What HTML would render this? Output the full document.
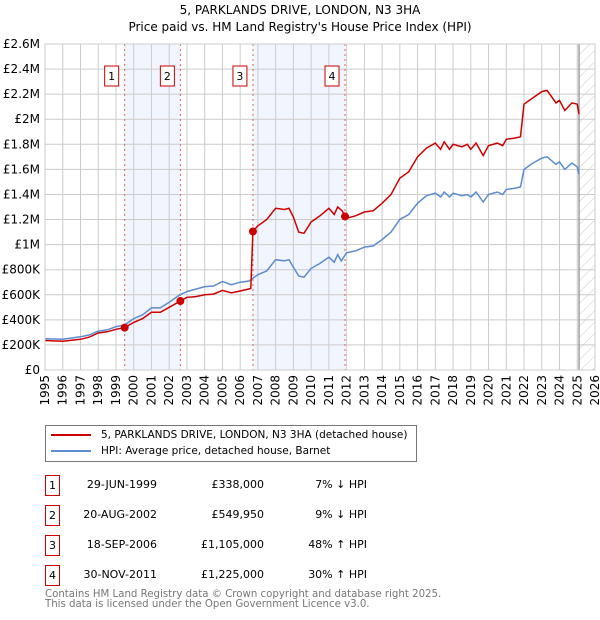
<!DOCTYPE html>
<html><head><meta charset="utf-8"><style>
body{margin:0;background:#fff;font-family:"DejaVu Sans","Liberation Sans",sans-serif;}
#wrap{position:relative;width:600px;height:620px;overflow:hidden}
.t{position:absolute;font-size:12px;color:#000;white-space:nowrap}
</style></head><body><div id="wrap">
<div class="t" style="left:0;width:600px;text-align:center;top:2px;line-height:17px">5, PARKLANDS DRIVE, LONDON, N3 3HA<br>Price paid vs. HM Land Registry's House Price Index (HPI)</div>
<svg id="chart" width="600" height="420" style="position:absolute;left:0;top:0" font-family="DejaVu Sans, Liberation Sans, sans-serif" font-size="12"></svg>
<div style="position:absolute;left:45px;top:425px;width:370px;height:35px;border:1px solid #777;">
<div style="position:absolute;left:5px;top:3px;font-size:10.5px;white-space:nowrap"><span style="display:inline-block;width:40px;height:2px;background:#cc0000;vertical-align:middle;margin-right:10px"></span>5, PARKLANDS DRIVE, LONDON, N3 3HA (detached house)</div>
<div style="position:absolute;left:5px;top:19px;font-size:10.5px;white-space:nowrap"><span style="display:inline-block;width:40px;height:2px;background:#5b8bd0;vertical-align:middle;margin-right:10px"></span>HPI: Average price, detached house, Barnet</div>
</div>
<div id="tbl"></div>
<div class="t" style="left:45px;top:590px;font-size:10.2px;color:#777;line-height:10px">Contains HM Land Registry data © Crown copyright and database right 2025.<br>This data is licensed under the Open Government Licence v3.0.</div>
</div>
<script>
const hpiYears=[1995,1996,1997,1997.5,1998,1998.5,1999,1999.5,2000,2000.5,2001,2001.5,2002,2002.6,2003,2003.5,2004,2004.5,2005,2005.5,2006,2006.5,2007,2007.5,2008,2008.5,2008.75,2009,2009.3,2009.6,2010,2010.5,2011,2011.3,2011.5,2011.7,2012,2012.5,2013,2013.5,2014,2014.5,2015,2015.5,2016,2016.5,2017,2017.3,2017.5,2017.8,2018,2018.5,2018.8,2019,2019.3,2019.7,2020,2020.5,2020.8,2021,2021.5,2021.8,2022,2022.5,2023,2023.3,2023.8,2024,2024.3,2024.7,2025,2025.1];
const hpiValues=[250,245,265,280,310,320,345,360,410,440,495,495,540,600,625,645,665,670,705,680,700,710,760,790,880,870,880,820,750,740,810,850,900,860,920,870,935,950,980,990,1040,1100,1200,1240,1330,1390,1410,1380,1420,1380,1410,1390,1400,1380,1420,1340,1400,1420,1400,1440,1450,1460,1600,1650,1690,1700,1640,1660,1600,1650,1620,1560];
const priceYears=[1995,1996,1997,1997.5,1998,1998.5,1999,1999.49,2000,2000.5,2001,2001.5,2002,2002.63,2003,2003.5,2004,2004.5,2005,2005.5,2006,2006.6,2006.72,2007,2007.5,2008,2008.5,2008.75,2009,2009.3,2009.6,2010,2010.5,2011,2011.3,2011.5,2011.75,2011.91,2012,2012.5,2013,2013.5,2014,2014.5,2015,2015.5,2016,2016.5,2017,2017.3,2017.5,2017.8,2018,2018.5,2018.8,2019,2019.3,2019.7,2020,2020.5,2020.8,2021,2021.5,2021.8,2022,2022.5,2023,2023.3,2023.8,2024,2024.3,2024.7,2025,2025.1];
const priceValues=[235,230,245,262,295,305,325,338,380,410,460,460,500,550,580,585,600,605,635,615,630,650,1105,1150,1200,1290,1280,1290,1220,1100,1090,1180,1230,1290,1240,1300,1270,1225,1210,1230,1260,1270,1330,1400,1530,1580,1700,1770,1810,1760,1820,1760,1800,1780,1800,1760,1810,1710,1790,1810,1790,1840,1850,1860,2120,2170,2220,2230,2130,2150,2070,2130,2120,2040];
const saleLabels=["1","2","3","4"];
const saleYears=[1999.49,2002.63,2006.72,2011.91];
const saleValues=[338,549.95,1105,1225];
const saleDates=["29-JUN-1999","20-AUG-2002","18-SEP-2006","30-NOV-2011"];
const salePrices=["£338,000","£549,950","£1,105,000","£1,225,000"];
const saleHpi=["7% ↓ HPI","9% ↓ HPI","48% ↑ HPI","30% ↑ HPI"];
const yTicks=[0,200,400,600,800,1000,1200,1400,1600,1800,2000,2200,2400,2600];
const yTickLabels=["£0","£200K","£400K","£600K","£800K","£1M","£1.2M","£1.4M","£1.6M","£1.8M","£2M","£2.2M","£2.4M","£2.6M"];
const xTicks=[1995,1996,1997,1998,1999,2000,2001,2002,2003,2004,2005,2006,2007,2008,2009,2010,2011,2012,2013,2014,2015,2016,2017,2018,2019,2020,2021,2022,2023,2024,2025,2026];
const dataEnd=2025.1;

const L=45,R=595,T=44,B=370;
const X=y=>L+(y-1995)/(2026-1995)*(R-L);
const Y=v=>B-v/2600*(B-T);
const svg=document.getElementById('chart');
const NS='http://www.w3.org/2000/svg';
function mk(tag,attrs,parent){const e=document.createElementNS(NS,tag);for(const k in attrs)e.setAttribute(k,attrs[k]);(parent||svg).appendChild(e);return e;}
const defs=mk('defs',{});
const pat=mk('pattern',{id:'hatch',width:8,height:8,patternUnits:'userSpaceOnUse',patternTransform:'rotate(45)'},defs);
mk('line',{x1:0,y1:0,x2:0,y2:8,stroke:'#ccc','stroke-width':1},pat);
for(let i=0;i<saleYears.length;i+=2){
  const r=mk('rect',{x:X(saleYears[i]),y:T,width:X(saleYears[i+1])-X(saleYears[i]),height:B-T,fill:'#eef3fc',opacity:0.8});
  
  
}
const h=mk('rect',{x:X(dataEnd),y:T,width:R-X(dataEnd),height:B-T,fill:'url(#hatch)'});


yTicks.forEach((v,i)=>{
  const g=mk('line',{x1:L,x2:R,y1:Y(v),y2:Y(v),stroke:'#ccc','stroke-width':1});
  
  
  const t=mk('text',{x:L-5,y:Y(v)+4,'text-anchor':'end',fill:'#000'});
  t.textContent=yTickLabels[i];
  
  
});
xTicks.forEach(y=>{
  const g=mk('line',{x1:X(y),x2:X(y),y1:T,y2:B,stroke:'#ccc','stroke-width':1});
  
  
  const t=mk('text',{x:0,y:0,'text-anchor':'end',fill:'#000',transform:`translate(${X(y)+4},${B+5}) rotate(-90)`});
  t.textContent=y;
  
  
});
const dl=mk('line',{x1:X(dataEnd),x2:X(dataEnd),y1:T,y2:B,stroke:'#888','stroke-width':1.2});


saleYears.forEach((y,i)=>{
  const l=mk('line',{x1:X(y),x2:X(y),y1:T,y2:B,stroke:'#e06060','stroke-width':1,'stroke-dasharray':'2,3'});
  
  
  const r=mk('rect',{x:X(y)-20,y:66,width:14,height:20,fill:'#fff',stroke:'#cc0000','stroke-width':1});
  
  
  const t=mk('text',{x:X(y)-13,y:80,'text-anchor':'middle',fill:'#000','font-size':11});
  t.textContent=saleLabels[i];
  
  
});
function pts(xs,vs){return xs.map((y,i)=>X(y).toFixed(1)+','+Y(vs[i]).toFixed(1)).join(' ');}
const hl=mk('polyline',{points:pts(hpiYears,hpiValues),fill:'none',stroke:'#5b8bd0','stroke-width':1.5});


const pl=mk('polyline',{points:pts(priceYears,priceValues),fill:'none',stroke:'#cc0000','stroke-width':1.5});


saleYears.forEach((y,i)=>{
  const c=mk('circle',{cx:X(y),cy:Y(saleValues[i]),r:4,fill:'#cc0000'});
  
  
});
mk('rect',{x:L,y:T,width:R-L,height:B-T,fill:'none',stroke:'#ccc','stroke-width':1});
const tbl=document.getElementById('tbl');
saleLabels.forEach((lab,i)=>{
  const top=475+i*30;
  const row=document.createElement('div');
  
  
  row.innerHTML=`<div style="position:absolute;left:45px;top:${top}px;width:13px;height:19px;border:1px solid #cc0000;font-size:11px;text-align:center;line-height:19px">${lab}</div>`+
  `<div class="t" style="left:57px;width:100px;text-align:right;top:${top+3}px;font-size:11px">${saleDates[i]}</div>`+
  `<div class="t" style="left:164px;width:100px;text-align:right;top:${top+3}px;font-size:11px">${salePrices[i]}</div>`+
  `<div class="t" style="left:267px;width:100px;text-align:right;top:${top+3}px;font-size:11px">${saleHpi[i]}</div>`;
  tbl.appendChild(row);
});
</script></body></html>
